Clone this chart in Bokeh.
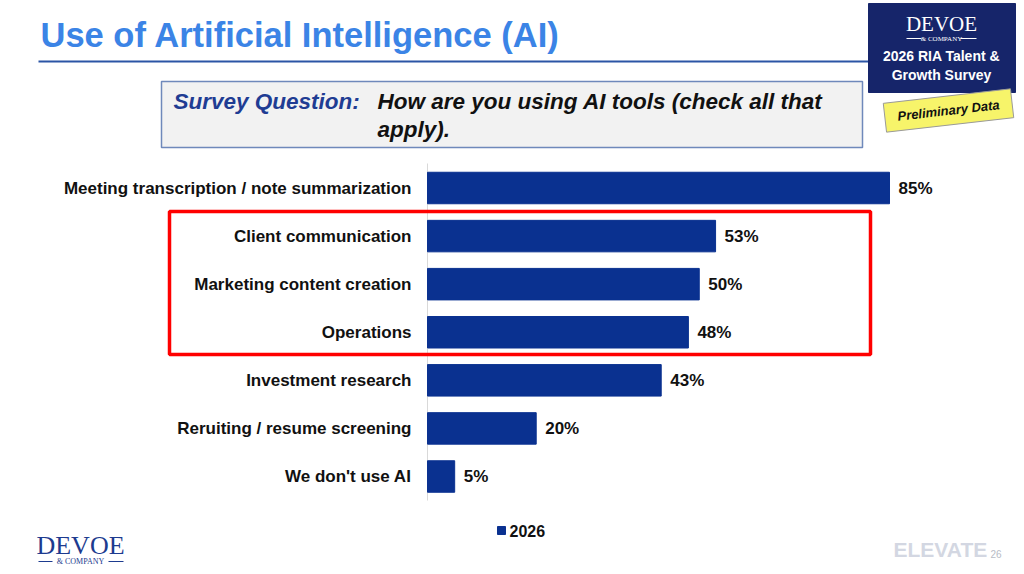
import numpy as np
from bokeh.plotting import figure
from bokeh.models import Range1d, ColumnDataSource
from bokeh.core.properties import value
from bokeh.embed import file_html
from bokeh.resources import INLINE

# ---- data ----
categories = [
    "Meeting transcription / note summarization",
    "Client communication",
    "Marketing content creation",
    "Operations",
    "Investment research",
    "Reruiting / resume screening",
    "We don't use AI",
]
values_2026 = [85, 53, 50, 48, 43, 20, 5]
series_name = "2026"

# ---- pixel <-> data helpers (frame fills the whole canvas) ----
X0_PX, PX_PER_PCT = 427.0, (889.0 - 427.0) / 85.0
YB_PX, PX_PER_ROW = 476.0, (476.0 - 187.5) / 6.0


def X(px):
    return (px - X0_PX) / PX_PER_PCT


def Y(py):
    return (YB_PX - py) / PX_PER_ROW


W, H = 1024, 574
p = figure(width=W, height=H, x_range=Range1d(X(0), X(W)), y_range=Range1d(Y(H), Y(0)),
           output_backend="svg", toolbar_location=None, x_axis_type=None, y_axis_type=None,
           min_border=0, min_border_left=0, min_border_right=0, min_border_top=0, min_border_bottom=0)
p.grid.visible = False
p.outline_line_color = None
p.background_fill_color = "white"
p.border_fill_color = "white"

NAVY = "#0a3190"
ARIAL = value("Liberation Sans")
SERIF = value("Liberation Serif")

n = len(categories)
ypos = [n - 1 - i for i in range(n)]
src = ColumnDataSource(dict(cat=categories, val=values_2026, y=ypos,
                            lab=[f"{v}%" for v in values_2026]))

# axis line
p.segment(x0=[0], y0=[Y(163)], x1=[0], y1=[Y(500)], line_color="#d9d9d9", line_width=1)

# bars
p.hbar(y="y", left=0, right="val", height=31.5 / PX_PER_ROW, source=src,
       fill_color=NAVY, line_color=NAVY)

# category labels
p.text(x=X(411), y="y", text="cat", source=src, text_align="right", text_baseline="middle",
       text_font=ARIAL, text_font_style="bold", text_font_size="17px", text_color="#111111")
# value labels
p.text(x="val", y="y", text="lab", source=src, x_offset=9, text_align="left", text_baseline="middle",
       text_font=ARIAL, text_font_style="bold", text_font_size="17px", text_color="#111111")

# highlight box
p.quad(left=[X(169)], right=[X(870)], top=[Y(211)], bottom=[Y(354)], fill_color=None,
       line_color="#ff0000", line_width=3.5)

# title
p.text(x=[X(40)], y=[Y(34)], text=["Use of Artificial Intelligence (AI)"], text_align="left",
       text_baseline="middle", text_font=ARIAL, text_font_style="bold", text_font_size="34.5px",
       text_color="#3b84e6")
p.segment(x0=[X(38)], y0=[Y(61)], x1=[X(868)], y1=[Y(61)], line_color="#2b55a5", line_width=2)

# survey question box
p.quad(left=[X(161)], right=[X(862)], top=[Y(81)], bottom=[Y(147)], fill_color="#f2f2f2",
       line_color="#6f89bb", line_width=1.5)
p.text(x=[X(173)], y=[Y(101)], text=["Survey Question:"], text_align="left", text_baseline="middle",
       text_font=ARIAL, text_font_style="bold italic", text_font_size="22.5px", text_color="#1f3c93")
p.text(x=[X(377), X(377)], y=[Y(101), Y(129)],
       text=["How are you using AI tools (check all that", "apply)."],
       text_align="left", text_baseline="middle",
       text_font=ARIAL, text_font_style="bold italic", text_font_size="22.5px", text_color="#111111")

# top-right logo box
p.quad(left=[X(868)], right=[X(1015)], top=[Y(3)], bottom=[Y(92)], fill_color="#16256a",
       line_color="#16256a")
p.text(x=[X(941)], y=[Y(23)], text=["DEVOE"], text_align="center", text_baseline="middle",
       text_font=SERIF, text_font_size="21px", text_color="white")
p.text(x=[X(941)], y=[Y(38)], text=["& COMPANY"], text_align="center", text_baseline="middle",
       text_font=SERIF, text_font_size="7px", text_color="white")
p.segment(x0=[X(906), X(960)], y0=[Y(38), Y(38)], x1=[X(921), X(976)], y1=[Y(38), Y(38)],
          line_color="white", line_width=1)
p.text(x=[X(941), X(941)], y=[Y(55), Y(74)], text=["2026 RIA Talent &", "Growth Survey"],
       text_align="center", text_baseline="middle", text_font=ARIAL, text_font_style="bold",
       text_font_size="14px", text_color="white")

# preliminary data tag
ang = np.deg2rad(6.5)
p.rect(x=[X(948)], y=[Y(110)], width=[128], height=[29], width_units="screen",
       height_units="screen", angle=ang, fill_color="#f7f46a", line_color="#9a9a9a", line_width=1)
p.text(x=[X(948)], y=[Y(110)], text=["Preliminary Data"], angle=ang, text_align="center",
       text_baseline="middle", text_font=ARIAL, text_font_style="bold italic",
       text_font_size="13px", text_color="#111111")

# legend
p.rect(x=[X(501)], y=[Y(530)], width=[8], height=[8], width_units="screen", height_units="screen",
       fill_color=NAVY, line_color=NAVY)
p.text(x=[X(509)], y=[Y(530)], text=[series_name], text_align="left", text_baseline="middle",
       text_font=ARIAL, text_font_style="bold", text_font_size="16px", text_color="#111111")

# bottom-left logo
p.text(x=[X(80)], y=[Y(545)], text=["DEVOE"], text_align="center", text_baseline="middle",
       text_font=SERIF, text_font_size="26px", text_color="#1d3b8f")
p.text(x=[X(80)], y=[Y(561)], text=["& COMPANY"], text_align="center", text_baseline="middle",
       text_font=SERIF, text_font_size="8px", text_color="#1d3b8f")
p.segment(x0=[X(38), X(108)], y0=[Y(561), Y(561)], x1=[X(52), X(123)], y1=[Y(561), Y(561)],
          line_color="#1d3b8f", line_width=1)

# bottom-right ELEVATE mark
p.text(x=[X(893)], y=[Y(549)], text=["ELEVATE"], text_align="left", text_baseline="middle",
       text_font=ARIAL, text_font_style="bold", text_font_size="21px", text_color="#d3d7e2")
p.text(x=[X(990)], y=[Y(553)], text=["26"], text_align="left", text_baseline="middle",
       text_font=ARIAL, text_font_size="10px", text_color="#b8bcc6")

open("out.html", "w").write(file_html(p, INLINE))
